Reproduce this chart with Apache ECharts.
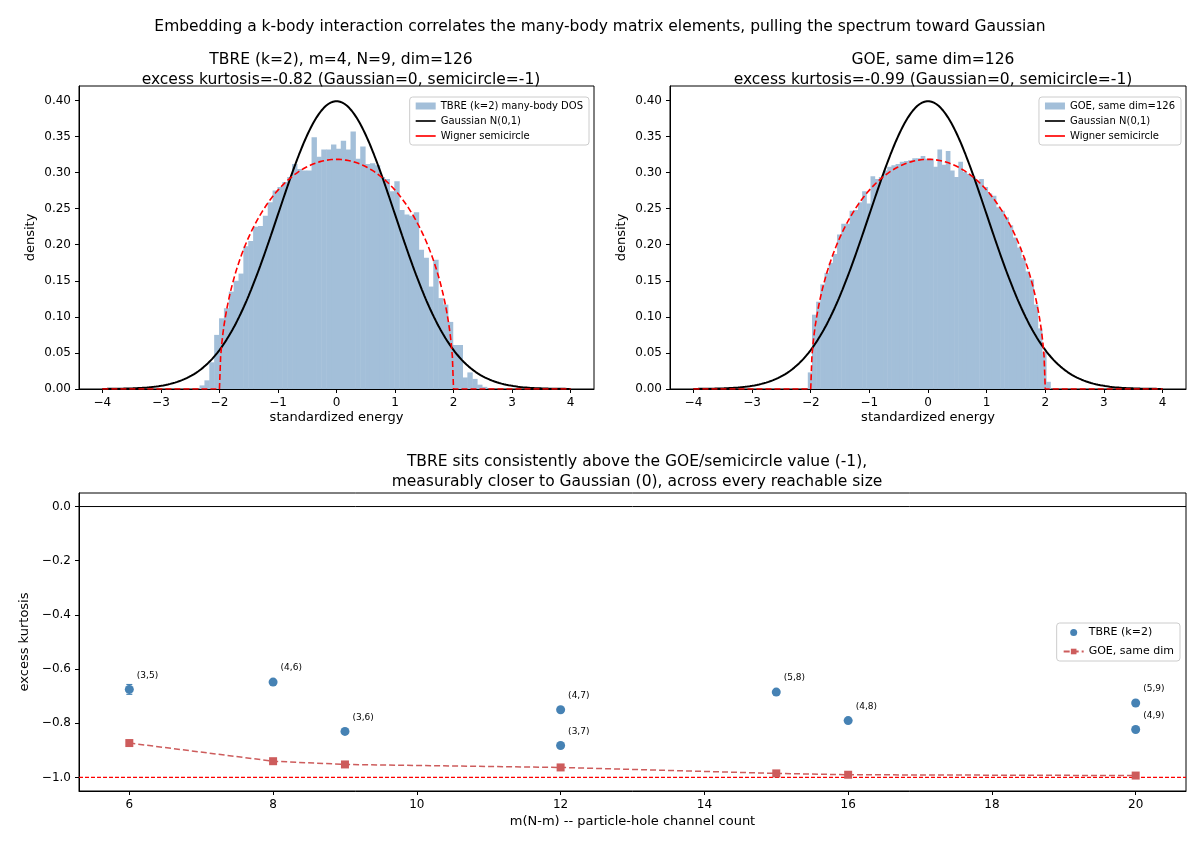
<!DOCTYPE html>
<html><head><meta charset="utf-8">
<script src="https://cdn.jsdelivr.net/npm/echarts@6/dist/echarts.min.js"></script>
<style>body{margin:0;background:#fff}#main{width:1200px;height:850px}</style>
</head><body><div id="main"></div>
<script>
// histogram bins: start, width, densities
var tbreStart=-2.34, tbreWidth=0.0832;
var tbreDens=[0.005,0.012,0.037,0.075,0.098,0.112,0.135,0.15,0.16,0.198,0.205,0.225,0.226,0.24,0.259,0.275,0.28,0.287,0.294,0.312,0.305,0.303,0.303,0.349,0.322,0.332,0.332,0.339,0.333,0.344,0.332,0.357,0.319,0.336,0.312,0.313,0.31,0.294,0.291,0.274,0.288,0.248,0.242,0.24,0.245,0.193,0.182,0.142,0.179,0.126,0.117,0.093,0.061,0.061,0.016,0.023,0.014,0.006,0.003];
var goeStart=-2.05, goeWidth=0.0713;
var goeDens=[0.023,0.103,0.121,0.145,0.161,0.175,0.187,0.214,0.229,0.229,0.247,0.248,0.259,0.274,0.257,0.295,0.291,0.294,0.303,0.308,0.31,0.312,0.315,0.316,0.317,0.32,0.32,0.323,0.319,0.319,0.308,0.332,0.311,0.33,0.303,0.294,0.315,0.301,0.298,0.295,0.289,0.291,0.28,0.271,0.268,0.252,0.247,0.238,0.227,0.21,0.196,0.182,0.163,0.152,0.117,0.084,0.051,0.01];
// bottom panel
var tbreX=[6,8,9,12,12,15,16,20,20];
var tbreK=[-0.675,-0.648,-0.83,-0.75,-0.882,-0.685,-0.79,-0.725,-0.823];
var tbreErr=[0.018,0.008,0.006,0.005,0.005,0.009,0.004,0.004,0.004];
var tbreLbl=['(3,5)','(4,6)','(3,6)','(4,7)','(3,7)','(5,8)','(4,8)','(5,9)','(4,9)'];
var goeX=[6,8,9,12,15,16,20];
var goeK=[-0.873,-0.94,-0.952,-0.963,-0.985,-0.99,-0.993];
var topXTicks=[-4,-3,-2,-1,0,1,2,3,4];
var topYTicks=[0,0.05,0.1,0.15,0.2,0.25,0.3,0.35,0.4];
var botXTicks=[6,8,10,12,14,16,18,20];
var botYTicks=[-1,-0.8,-0.6,-0.4,-0.2,0];

var histColor='#a3bfd9';
function bins(start,w,d){return d.map(function(v,i){return [start+i*w,start+(i+1)*w,v];});}
var gauss=[],semi=[];
for(var i=0;i<=400;i++){var x=-4+i*0.02;gauss.push([x,Math.exp(-x*x/2)/Math.sqrt(2*Math.PI)]);
 semi.push([x,Math.abs(x)<2?Math.sqrt(4-x*x)/(2*Math.PI):0]);}
semi.push([2,0]);semi.sort(function(a,b){return a[0]-b[0];});

var font='DejaVu Sans';
function rectItem(params,api){
  var p0=api.coord([api.value(0),api.value(2)]),p1=api.coord([api.value(1),0]);
  return {type:'rect',shape:{x:p0[0],y:p0[1],width:p1[0]-p0[0]+0.5,height:p1[1]-p0[1]},style:{fill:histColor,stroke:null}};
}
function errItem(params,api){
  var x=api.value(0),y=api.value(1),e=api.value(2);
  var a=api.coord([x,y-e]),b=api.coord([x,y+e]);
  return {type:'group',children:[
    {type:'line',shape:{x1:a[0],y1:a[1],x2:b[0],y2:b[1]},style:{stroke:'#4682b4',lineWidth:1.2}},
    {type:'line',shape:{x1:a[0]-3,y1:a[1],x2:a[0]+3,y2:a[1]},style:{stroke:'#4682b4',lineWidth:1.2}},
    {type:'line',shape:{x1:b[0]-3,y1:b[1],x2:b[0]+3,y2:b[1]},style:{stroke:'#4682b4',lineWidth:1.2}}]};
}
function fmtNum(d){return function(v){return (v<-1e-9?'\u2212':'')+Math.abs(v).toFixed(d);};}
function ax(o,ticks,dec){
  return Object.assign({type:'value',axisLine:{onZero:false,lineStyle:{color:'#000'}},
    axisTick:{length:4,lineStyle:{color:'#000'},customValues:ticks},
    axisLabel:{color:'#000',fontSize:12,fontFamily:font,customValues:ticks,formatter:fmtNum(dec)},
    splitLine:{show:false},nameTextStyle:{color:'#000',fontSize:13,fontFamily:font},nameLocation:'middle'},o);
}
var tf={fontFamily:font,color:'#000',fontWeight:'normal'};
var lineIcon='path://M0,0H24V2H0Z';
var legendTop={top:97,itemWidth:20,itemHeight:7,orient:'vertical',itemGap:5,padding:[4,6],borderColor:'#ccc',borderWidth:1,borderRadius:3,
  textStyle:{fontSize:10,fontFamily:font,color:'#000'}};

var option={
  animation:false,
  title:[
    {text:'Embedding a k-body interaction correlates the many-body matrix elements, pulling the spectrum toward Gaussian',left:'center',top:14,textStyle:Object.assign({fontSize:15.5},tf)},
    {text:'TBRE (k=2), m=4, N=9, dim=126\nexcess kurtosis=-0.82 (Gaussian=0, semicircle=-1)',left:336,textAlign:'center',top:45,textStyle:Object.assign({fontSize:15.5,lineHeight:20},tf)},
    {text:'GOE, same dim=126\nexcess kurtosis=-0.99 (Gaussian=0, semicircle=-1)',left:928,textAlign:'center',top:45,textStyle:Object.assign({fontSize:15.5,lineHeight:20},tf)},
    {text:'TBRE sits consistently above the GOE/semicircle value (-1),\nmeasurably closer to Gaussian (0), across every reachable size',left:632,textAlign:'center',top:447,textStyle:Object.assign({fontSize:15.5,lineHeight:20},tf)}
  ],
  grid:[
    {left:79,width:515,top:86,height:303,show:true,borderColor:'#000',borderWidth:1},
    {left:670,width:516,top:86,height:303,show:true,borderColor:'#000',borderWidth:1},
    {left:79,width:1107,top:493,height:298,show:true,borderColor:'#000',borderWidth:1}
  ],
  xAxis:[
    ax({gridIndex:0,min:-4.4,max:4.4,name:'standardized energy',nameGap:22},topXTicks,0),
    ax({gridIndex:1,min:-4.4,max:4.4,name:'standardized energy',nameGap:22},topXTicks,0),
    ax({gridIndex:2,min:5.3,max:20.7,name:'m(N-m) -- particle-hole channel count',nameGap:24},botXTicks,0)],
  yAxis:[
    ax({gridIndex:0,min:0,max:0.42,name:'density',nameGap:42},topYTicks,2),
    ax({gridIndex:1,min:0,max:0.42,name:'density',nameGap:42},topYTicks,2),
    ax({gridIndex:2,min:-1.05,max:0.05,name:'excess kurtosis',nameGap:44},botYTicks,1)],
  legend:[
    Object.assign({},legendTop,{right:1200-589,data:[{name:'TBRE (k=2) many-body DOS',icon:'rect'},{name:'Gaussian N(0,1)',icon:lineIcon},{name:'Wigner semicircle',icon:lineIcon}]}),
    Object.assign({},legendTop,{right:1200-1181,data:[{name:'GOE, same dim=126',icon:'rect'},{name:'Gaussian N(0,1) ',icon:lineIcon},{name:'Wigner semicircle ',icon:lineIcon}]}),
    Object.assign({},legendTop,{top:623,right:1200-1180,itemGap:8,data:[{name:'TBRE (k=2)',icon:'circle'},'GOE, same dim'],textStyle:{fontSize:11,fontFamily:font,color:'#000'}})
  ],
  series:[
    {name:'TBRE (k=2) many-body DOS',type:'custom',xAxisIndex:0,yAxisIndex:0,renderItem:rectItem,data:bins(tbreStart,tbreWidth,tbreDens),itemStyle:{color:histColor},encode:{x:[0,1],y:2}},
    {name:'Gaussian N(0,1)',type:'line',xAxisIndex:0,yAxisIndex:0,data:gauss,showSymbol:false,lineStyle:{color:'#000',width:2},itemStyle:{color:'#000'}},
    {name:'Wigner semicircle',type:'line',xAxisIndex:0,yAxisIndex:0,data:semi,showSymbol:false,lineStyle:{color:'#f00',width:1.6,type:[6,3]},itemStyle:{color:'#f00'}},
    {name:'GOE, same dim=126',type:'custom',xAxisIndex:1,yAxisIndex:1,renderItem:rectItem,data:bins(goeStart,goeWidth,goeDens),itemStyle:{color:histColor},encode:{x:[0,1],y:2}},
    {name:'Gaussian N(0,1) ',type:'line',xAxisIndex:1,yAxisIndex:1,data:gauss,showSymbol:false,lineStyle:{color:'#000',width:2},itemStyle:{color:'#000'}},
    {name:'Wigner semicircle ',type:'line',xAxisIndex:1,yAxisIndex:1,data:semi,showSymbol:false,lineStyle:{color:'#f00',width:1.6,type:[6,3]},itemStyle:{color:'#f00'}},
    {type:'line',xAxisIndex:2,yAxisIndex:2,data:[[5.3,0],[20.7,0]],showSymbol:false,silent:true,lineStyle:{color:'#000',width:1},itemStyle:{color:'#000'}},
    {type:'line',xAxisIndex:2,yAxisIndex:2,data:[[5.3,-1],[20.7,-1]],showSymbol:false,silent:true,lineStyle:{color:'#ff0000',width:1.2,type:[4,2]},itemStyle:{color:'#ff0000'}},
    {name:'GOE, same dim',type:'line',xAxisIndex:2,yAxisIndex:2,data:goeX.map(function(x,i){return [x,goeK[i]];}),symbol:'rect',symbolSize:8,
      lineStyle:{color:'#cd5c5c',width:1.5,type:[6,3]},itemStyle:{color:'#cd5c5c'}},
    {type:'custom',xAxisIndex:2,yAxisIndex:2,renderItem:errItem,data:tbreX.map(function(x,i){return [x,tbreK[i],tbreErr[i]];}),encode:{x:0,y:1},z:3},
    {name:'TBRE (k=2)',type:'scatter',xAxisIndex:2,yAxisIndex:2,data:tbreX.map(function(x,i){return [x,tbreK[i],tbreLbl[i]];}),symbolSize:9,
      itemStyle:{color:'#4682b4',opacity:1},z:4,
      label:{show:true,position:'right',offset:[-2,-14],fontSize:9,fontFamily:font,color:'#000',formatter:function(p){return p.value[2];}}}
  ]
};
echarts.init(document.getElementById('main')).setOption(option);
</script></body></html>
